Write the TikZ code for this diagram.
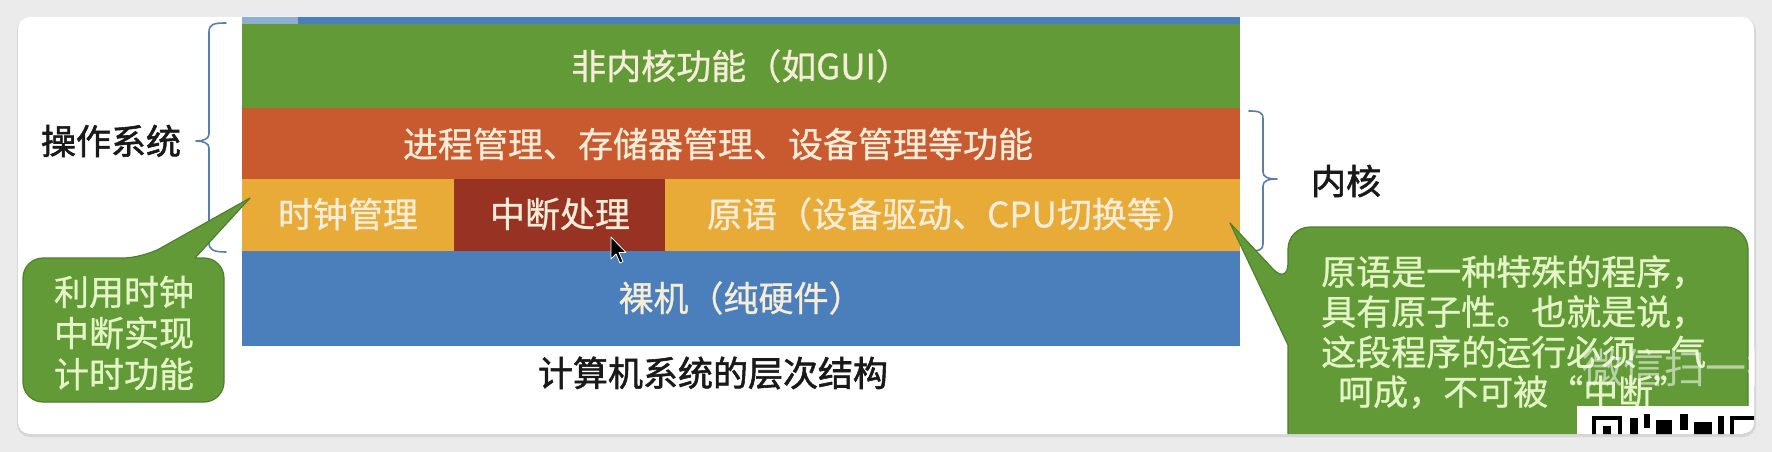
\documentclass[tikz,border=0pt]{standalone}
\usepackage{fontspec}
\newfontfamily\cjk[FakeBold=0.8]{Noto Sans CJK SC}
\newfontfamily\cjkb[FakeBold=1.6]{Noto Sans CJK SC}
\newfontfamily\cjkw{Noto Sans CJK SC}
\definecolor{bggray}{HTML}{EBEBEB}
\definecolor{shadowgray}{HTML}{D6D6D6}
\definecolor{bandgreen}{HTML}{639A38}
\definecolor{bandred}{HTML}{C95A30}
\definecolor{bandyellow}{HTML}{E9AB38}
\definecolor{banddark}{HTML}{983222}
\definecolor{bandblue}{HTML}{4B7FBC}
\definecolor{lightblue}{HTML}{8EAED2}
\definecolor{bandtext}{HTML}{F6EDD8}
\definecolor{calltext}{HTML}{E4F5C6}
\definecolor{callborder}{HTML}{4E7F2C}
\definecolor{bracecol}{HTML}{5A7FAA}
\begin{document}
\begin{tikzpicture}[x=1pt,y=-1pt,
  bandlabel/.style={font=\cjk\fontsize{35}{40}\selectfont, text=bandtext, inner sep=0pt},
  blacklabel/.style={font=\cjkb\fontsize{35}{40}\selectfont, text=black!90, inner sep=0pt},
  calllabel/.style={font=\cjk\fontsize{35}{40}\selectfont, text=calltext, inner sep=0pt},
  bracestyle/.style={draw=bracecol, line width=1.6pt, line join=round, line cap=round},
  callout/.style={fill=bandgreen, draw=callborder, line width=1.2pt, line join=round}]
\useasboundingbox (0,0) rectangle (1772,452);
\fill[bggray] (0,0) rectangle (1772,452);
\fill[shadowgray, rounded corners=13pt] (17,18) rectangle (1756,437);
\fill[white, rounded corners=12pt] (18,17) rectangle (1754,434);
\begin{scope}
\clip[rounded corners=12pt] (18,17) rectangle (1754,434);
% layered stack
\fill[lightblue] (242,17) rectangle (298,24);
\fill[bandblue] (298,17) rectangle (1240,24);
\fill[bandgreen] (242,24) rectangle (1240,108);
\fill[bandred] (242,108) rectangle (1240,179);
\fill[bandyellow] (242,179) rectangle (454,251);
\fill[banddark] (454,179) rectangle (665,251);
\fill[bandyellow] (665,179) rectangle (1240,251);
\fill[bandblue] (242,251) rectangle (1240,346);
\node[bandlabel] (nonkernel) at (741,66) {非内核功能（如GUI）};
\node[bandlabel] (mgmt) at (718,144) {进程管理、存储器管理、设备管理等功能};
\node[bandlabel] (clock) at (348,214) {时钟管理};
\node[bandlabel] (intr) at (560,214) {中断处理};
\node[bandlabel] (prim) at (952,214) {原语（设备驱动、CPU切换等）};
\node[bandlabel] (bare) at (741,298) {裸机（纯硬件）};
\node[blacklabel] (caption) at (713,373) {计算机系统的层次结构};
% braces
\draw[bracestyle] (226,23) .. controls (214,23) and (209,24) .. (209,32)
  -- (209,134) .. controls (209,139) and (203,141) .. (196,141)
  .. controls (203,141) and (209,143) .. (209,148)
  -- (209,243) .. controls (209,250) and (214,252) .. (226,252);
\node[blacklabel] (os) at (111,141) {操作系统};
\draw[bracestyle] (1249,111) .. controls (1259,111) and (1263,112) .. (1263,119)
  -- (1263,172) .. controls (1263,177) and (1268,179) .. (1277,179)
  .. controls (1268,179) and (1263,181) .. (1263,186)
  -- (1263,244) .. controls (1263,250) and (1259,251) .. (1249,251);
\node[blacklabel] (kernel) at (1346,181) {内核};
% left callout
\draw[callout] (250,198) -- (195,258) [rounded corners=20pt] -- (224,258) -- (224,402)
  -- (23,402) -- (23,258) -- (143,258) [sharp corners] -- cycle;
\node[calllabel] (l1) at (124,292) {利用时钟};
\node[calllabel] (l2) at (124,333) {中断实现};
\node[calllabel] (l3) at (124,374) {计时功能};
% right callout
\draw[callout] (1230,223) -- (1288,345) [rounded corners=22pt] -- (1288,470)
  -- (1748,470) -- (1748,227) -- (1288,227) -- (1288,285) [sharp corners] -- cycle;
\node[calllabel, anchor=west] (r1) at (1321,272) {原语是一种特殊的程序，};
\node[calllabel, anchor=west] (r2) at (1321,312) {具有原子性。也就是说，};
\node[calllabel, anchor=west] (r3) at (1321,352) {这段程序的运行必须一气};
\node[calllabel, anchor=west] (r4) at (1338,392) {呵成，不可被“中断”};
% watermark and QR fragment
\node[font=\cjkw\fontsize{41}{44}\selectfont, text=white, opacity=0.55, anchor=west, inner sep=0pt] (wm) at (1582,368) {微信扫一扫};
\fill[white] (1577,406) rectangle (1760,440);
\draw[black, line width=4pt] (1594,418) rectangle (1620,445);
\fill[black] (1603,426) rectangle (1611,440);
\fill[black] (1630,418) rectangle (1638,440);
\fill[black] (1644,414) rectangle (1650,428);
\fill[black] (1656,420) rectangle (1672,440);
\fill[black] (1680,414) rectangle (1688,430);
\fill[black] (1694,422) rectangle (1712,440);
\fill[black] (1718,416) rectangle (1724,440);
\draw[black, line width=4pt] (1732,418) rectangle (1760,445);
% mouse cursor
\draw[fill=black, draw=white, line width=0.8pt, line join=round] (611,237) coordinate (cur) -- ++(0,22) -- ++(5,-5) -- ++(4,9) -- ++(3,-1.5) -- ++(-4,-9) -- ++(7,0) -- cycle;
\end{scope}
\end{tikzpicture}
\end{document}
